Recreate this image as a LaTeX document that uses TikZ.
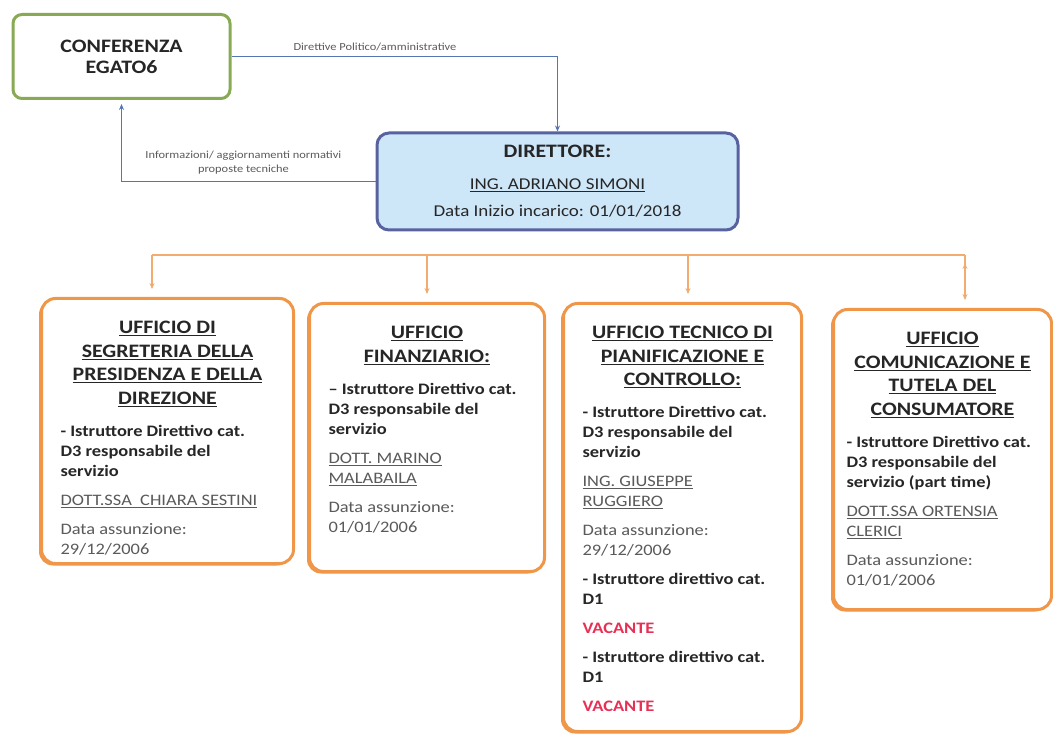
\documentclass[tikz,border=0pt]{standalone}
\usepackage{fontspec}
\setmainfont[FakeStretch=1.15]{Carlito}
\usetikzlibrary{arrows.meta,shadows}

\definecolor{verdeconf}{RGB}{137,170,84}
\definecolor{bluelinea}{RGB}{84,118,178}
\definecolor{azzurrodir}{RGB}{205,230,248}
\definecolor{bordodir}{RGB}{88,98,160}
\definecolor{arancio}{RGB}{240,150,72}
\definecolor{aranciolinea}{RGB}{242,172,112}
\definecolor{rossovac}{RGB}{232,48,84}
\definecolor{testoscuro}{RGB}{38,38,38}
\definecolor{testogrigio}{RGB}{90,90,90}

\newcommand{\sott}[1]{\underline{#1}}
\newcommand{\titolo}[1]{{\centering\fontsize{19}{23.5}\selectfont\bfseries\color{testoscuro}#1\par}\vspace{3pt}}
\newcommand{\voce}[1]{{\fontsize{16}{20}\selectfont\bfseries\color{testoscuro}#1\par}}
\newcommand{\dato}[1]{{\fontsize{16}{20}\selectfont\color{testogrigio}#1\par}}
\newcommand{\vacante}{{\fontsize{16}{20}\selectfont\bfseries\color{rossovac}VACANTE\par}}
\newcommand{\casella}[3]{\parbox[c][#2][t]{#1}{\raggedright\setlength{\parskip}{9pt}#3}}

\begin{document}
\begin{tikzpicture}[x=1pt, y=-1pt,
conf/.style={draw=verdeconf, line width=3pt, rounded corners=9pt, fill=white,
  minimum width=217pt, minimum height=84pt, align=center, text=testoscuro,
  font=\fontsize{19}{21}\selectfont\bfseries},
dir/.style={draw=bordodir, line width=3pt, rounded corners=12pt, fill=azzurrodir,
  minimum width=361pt, minimum height=97pt, align=center, text=testoscuro,
  font=\fontsize{16.5}{20}\selectfont},
ufficio/.style={draw=arancio, line width=3pt, rounded corners=14pt, fill=white,
  inner xsep=0pt, inner ysep=14pt, anchor=north west,
  drop shadow={shadow xshift=-2.5pt, shadow yshift=-2pt, fill=arancio, opacity=1}},
freccia blu/.style={draw=bluelinea, line width=1.3pt, -{Stealth[length=6pt,width=5pt]}},
freccia arancio/.style={draw=aranciolinea, line width=1.5pt, -{Stealth[length=6pt,width=5pt]}, shorten >=8pt},
etichetta/.style={text=testogrigio, font=\fontsize{10.8}{14}\selectfont, align=center, inner sep=1pt}]
\useasboundingbox (0,0) rectangle (1053,735);

\node[conf] (conf) at (121.5,56.5) {CONFERENZA\\EGATO6};
\node[dir] (dir) at (557.5,181.5) {{\fontsize{19}{23}\selectfont\bfseries DIRETTORE:}\\[12pt]
  \sott{ING. ADRIANO SIMONI}\\[7pt]
  Data Inizio incarico: 01/01/2018};

\node[ufficio, minimum width=252pt] (seg) at (40,297) {\casella{214pt}{237pt}{%
  \titolo{\sott{UFFICIO DI}\\\sott{SEGRETERIA DELLA}\\\sott{PRESIDENZA E DELLA}\\\sott{DIREZIONE}}
  \voce{- Istruttore Direttivo cat.\\D3 responsabile del\\servizio}
  \dato{\sott{DOTT.SSA\ \ CHIARA SESTINI}}
  \dato{Data assunzione:\\29/12/2006}}};
\node[ufficio, minimum width=235pt] (fin) at (308,302) {\casella{197pt}{240pt}{%
  \titolo{\sott{UFFICIO}\\\sott{FINANZIARIO:}}
  \voce{-- Istruttore Direttivo cat.\\D3 responsabile del\\servizio}
  \dato{\sott{DOTT. MARINO}\\\sott{MALABAILA}}
  \dato{Data assunzione:\\01/01/2006}}};
\node[ufficio, minimum width=238pt] (tec) at (562,302) {\casella{200pt}{400pt}{%
  \titolo{\sott{UFFICIO TECNICO DI}\\\sott{PIANIFICAZIONE E}\\\sott{CONTROLLO:}}
  \voce{- Istruttore Direttivo cat.\\D3 responsabile del\\servizio}
  \dato{\sott{ING. GIUSEPPE}\\\sott{RUGGIERO}}
  \dato{Data assunzione:\\29/12/2006}
  \voce{- Istruttore direttivo cat.\\D1}
  \vacante
  \voce{- Istruttore direttivo cat.\\D1}
  \vacante}};
\node[ufficio, minimum width=218pt] (com) at (832,308) {\casella{192pt}{272pt}{%
  \titolo{\sott{UFFICIO}\\\sott{COMUNICAZIONE E}\\\sott{TUTELA DEL}\\\sott{CONSUMATORE}}
  \voce{- Istruttore Direttivo cat.\\D3 responsabile del\\servizio (part time)}
  \dato{\sott{DOTT.SSA ORTENSIA}\\\sott{CLERICI}}
  \dato{Data assunzione:\\01/01/2006}}};

% direttive e informazioni
\draw[freccia blu] (conf.east) -| node[etichetta, pos=0.22, above=4pt] (lbl-dir) {Direttive Politico/amministrative} (dir.north);
\draw[freccia blu, shorten >=4pt] (dir.west) -| node[etichetta, pos=0.26, above=6pt] (lbl-inf) {Informazioni/ aggiornamenti normativi\\proposte tecniche} (conf.south);

% uffici
\coordinate (bus-seg) at (152,255);
\coordinate (bus-fin) at (427,255);
\coordinate (bus-tec) at (688,255);
\coordinate (bus-com) at (965,255);
\draw[aranciolinea, line width=1.5pt] (bus-seg) -- (bus-com);
\path[freccia arancio]
(bus-seg) edge (bus-seg |- seg.north)
(bus-fin) edge (bus-fin |- fin.north)
(bus-tec) edge (bus-tec |- tec.north)
(bus-com) edge (bus-com |- com.north);
\end{tikzpicture}
\end{document}
